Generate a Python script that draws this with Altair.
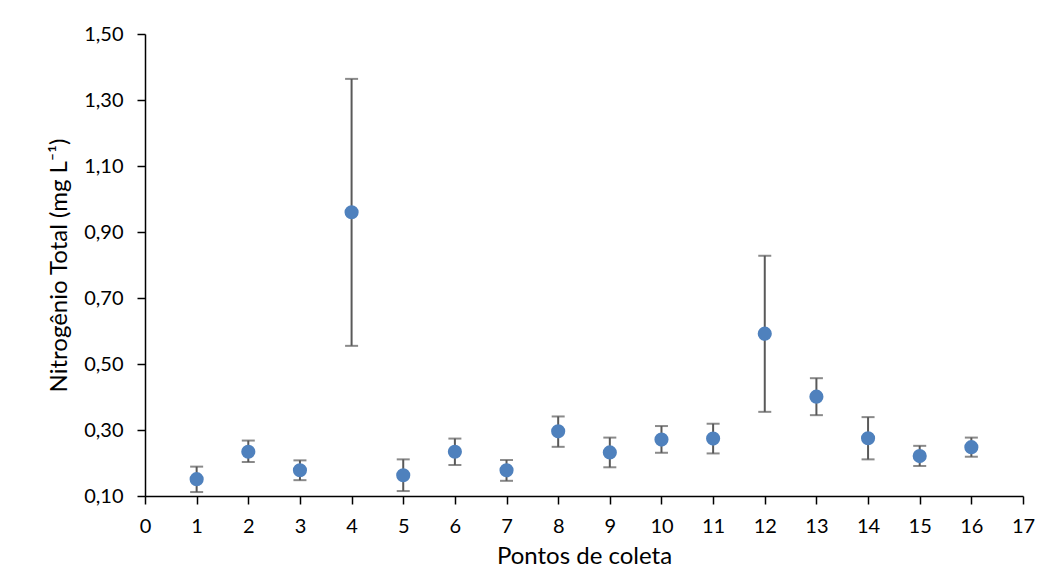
import altair as alt
import pandas as pd

pontos = list(range(1, 17))
media = [0.151, 0.234, 0.178, 0.960, 0.163, 0.234, 0.178, 0.296, 0.232, 0.271, 0.274, 0.592, 0.401, 0.275, 0.221, 0.248]
sup = [0.189, 0.268, 0.208, 1.364, 0.211, 0.274, 0.209, 0.341, 0.277, 0.312, 0.319, 0.828, 0.457, 0.339, 0.252, 0.277]
inf = [0.112, 0.203, 0.148, 0.555, 0.115, 0.194, 0.146, 0.249, 0.187, 0.231, 0.229, 0.355, 0.345, 0.211, 0.191, 0.219]

x_ticks = list(range(0, 18))
y_ticks = [0.10, 0.30, 0.50, 0.70, 0.90, 1.10, 1.30, 1.50]

df = pd.DataFrame({"ponto": pontos, "media": media, "sup": sup, "inf": inf})

FONT = "Lato"
blue = "#4F81BD"
gray = "#595959"

xs = alt.Scale(domain=[0, 17], nice=False, zero=False)
ys = alt.Scale(domain=[0.1, 1.5], nice=False, zero=False)

x_axis = alt.Axis(values=x_ticks, format="d", title="Pontos de coleta", grid=False,
                  tickSize=8, labelPadding=12, titlePadding=8, labelFlush=False)
y_axis = alt.Axis(values=y_ticks, title="Nitrogênio Total (mg L⁻¹)", grid=False,
                  labelExpr="replace(format(datum.value, '.2f'), '.', ',')",
                  tickSize=8, labelPadding=14, titlePadding=12, labelFlush=False)

base = alt.Chart(df)

rules = base.mark_rule(color=gray, strokeWidth=2).encode(
    x=alt.X("ponto:Q", scale=xs, axis=x_axis),
    y=alt.Y("inf:Q", scale=ys, axis=y_axis),
    y2="sup:Q",
)
caps_top = base.mark_tick(color=gray, size=13, thickness=2, orient="horizontal").encode(
    x=alt.X("ponto:Q", scale=xs), y=alt.Y("sup:Q", scale=ys)
)
caps_bot = base.mark_tick(color=gray, size=13, thickness=2, orient="horizontal").encode(
    x=alt.X("ponto:Q", scale=xs), y=alt.Y("inf:Q", scale=ys)
)
points = base.mark_circle(color=blue, opacity=1, size=200).encode(
    x=alt.X("ponto:Q", scale=xs), y=alt.Y("media:Q", scale=ys)
)

chart = alt.layer(rules, caps_top, caps_bot, points).properties(
    width=878, height=462,
    autosize=alt.AutoSizeParams(type="none"),
    padding={"left": 137, "top": 26, "right": 20, "bottom": 78},
).configure_view(stroke=None).configure_axis(
    domainColor="black", domainWidth=1.5, tickColor="black", tickWidth=1.5,
    labelFont=FONT, titleFont=FONT, labelFontSize=20, titleFontSize=24,
    labelColor="black", titleColor="black", titleFontWeight="normal",
)

chart.save("out.html", embed_options={"renderer": "svg", "actions": False})
